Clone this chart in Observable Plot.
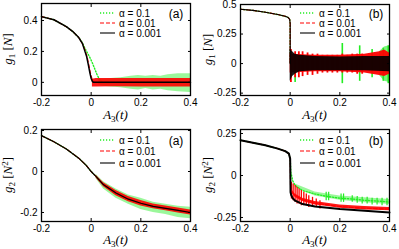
<!DOCTYPE html>
<html>
<head>
<meta charset="utf-8">
<script src="https://cdn.jsdelivr.net/npm/d3@7"></script>
<script src="https://cdn.jsdelivr.net/npm/@observablehq/plot@0.6"></script>
<style>
  html, body { margin: 0; padding: 0; background: #fff; }
  #wrap { position: relative; width: 399px; height: 249px; overflow: hidden; }
  .cell { position: absolute; }
  svg { font-family: "Liberation Sans", Arial, sans-serif; overflow: visible; }
</style>
</head>
<body>
<div id="wrap">
  <div class="cell" id="pa" style="left:0;top:0"></div>
  <div class="cell" id="pb" style="left:200px;top:0"></div>
  <div class="cell" id="pc" style="left:0;top:125px"></div>
  <div class="cell" id="pd" style="left:200px;top:125px"></div>
</div>
<script>
// ---------- shared ----------
const xTicks = [-0.2, 0, 0.2, 0.4];
const legendLabels = ["α = 0.1", "α = 0.01", "α = 0.001"];

// ---------- panel (a) top: g1 ----------
const aTicks = [0, 0.2, 0.4];
const aBlackX = [-0.2, -0.15, -0.1, -0.075, -0.05, -0.035, -0.027, -0.018, -0.011, -0.005, 0, 0.005, 0.01, 0.4];
const aBlackY = [0.425, 0.405, 0.36, 0.33, 0.29, 0.25, 0.21, 0.165, 0.11, 0.06, 0.025, 0.005, 0, 0];
const aRedX = [-0.2, -0.15, -0.1, -0.075, -0.05, -0.035, -0.025, -0.016, -0.009, -0.003, 0.003, 0.009, 0.015, 0.4];
const aRedY = [0.425, 0.405, 0.36, 0.33, 0.29, 0.25, 0.21, 0.165, 0.11, 0.06, 0.025, 0.005, 0, 0];
const aGreenX = [-0.2, -0.15, -0.1, -0.075, -0.05, -0.035, -0.025, -0.015, -0.005, 0.005, 0.015, 0.025, 0.035, 0.045];
const aGreenY = [0.425, 0.405, 0.36, 0.33, 0.29, 0.255, 0.22, 0.19, 0.16, 0.125, 0.085, 0.045, 0.015, 0];
const aGreenBandX = [0.03, 0.05, 0.08, 0.12, 0.16, 0.19, 0.22, 0.25, 0.28, 0.31, 0.35, 0.4];
const aGreenBandLo = [-0.015, -0.025, -0.03, -0.035, -0.045, -0.05, -0.04, -0.05, -0.045, -0.055, -0.06, -0.065];
const aGreenBandHi = [0.02, 0.02, 0.025, 0.03, 0.04, 0.045, 0.04, 0.045, 0.04, 0.05, 0.055, 0.055];
const aRedBandX = [0.005, 0.02, 0.1, 0.2, 0.3, 0.4];
const aRedBandLo = [-0.03, -0.03, -0.028, -0.03, -0.03, -0.03];
const aRedBandHi = [0.02, 0.025, 0.025, 0.025, 0.025, 0.025];

// ---------- panel (b) top: g1 ----------
const bTicks = [-0.25, 0, 0.25, 0.5];
const bLineX = [-0.2, -0.15, -0.1, -0.05, -0.02, -0.008, -0.002, 0, 0];
const bLineY = [0.46, 0.45, 0.435, 0.415, 0.4, 0.39, 0.375, 0.34, 0];
const bBlackBandX = [0, 0.005, 0.01, 0.02, 0.04, 0.1, 0.2, 0.3, 0.4];
const bBlackBandLo = [-0.15, -0.13, -0.11, -0.09, -0.07, -0.06, -0.06, -0.06, -0.07];
const bBlackBandHi = [0.12, 0.11, 0.1, 0.08, 0.07, 0.06, 0.055, 0.06, 0.06];
const bRedBandX = [0, 0.1, 0.2, 0.3, 0.33, 0.36, 0.38, 0.4];
const bRedBandLo = [-0.08, -0.07, -0.07, -0.08, -0.09, -0.1, -0.11, -0.09];
const bRedBandHi = [0.08, 0.07, 0.07, 0.08, 0.09, 0.1, 0.115, 0.09];
const bRedSpikeX = [0.003, 0.02, 0.035, 0.05, 0.07, 0.09, 0.11, 0.13, 0.15, 0.17, 0.19, 0.21, 0.23, 0.25, 0.27, 0.29];
const bRedSpikeHi = [0.12, 0.1, 0.1, 0.1, 0.09, 0.08, 0.08, 0.07, 0.07, 0.07, 0.07, 0.08, 0.07, 0.08, 0.08, 0.08];
const bRedSpikeLo = [-0.16, -0.12, -0.12, -0.11, -0.1, -0.1, -0.09, -0.08, -0.08, -0.08, -0.08, -0.08, -0.08, -0.08, -0.09, -0.09];
const bGreenSpikeX = [0.02, 0.21, 0.28, 0.33, 0.375, 0.395];
const bGreenSpikeHi = [0.05, 0.17, 0.15, 0.12, 0.13, 0.15];
const bGreenSpikeLo = [-0.16, -0.17, -0.15, -0.12, -0.15, -0.17];
const bGreenBandX = [0.36, 0.38, 0.4];
const bGreenBandLo = [-0.1, -0.15, -0.16];
const bGreenBandHi = [0.1, 0.14, 0.15];

// ---------- panel (a) bottom: g2 ----------
const cTicks = [-0.2, 0, 0.2];
const cLineX = [-0.2, -0.15, -0.1, -0.05, -0.02, 0, 0.02, 0.05, 0.1, 0.15, 0.2, 0.25, 0.3, 0.35, 0.4];
const cLineY = [0.175, 0.145, 0.11, 0.065, 0.03, 0, -0.025, -0.065, -0.105, -0.135, -0.155, -0.17, -0.18, -0.19, -0.2];
const cGreenBandX = [0.02, 0.05, 0.1, 0.15, 0.2, 0.25, 0.3, 0.35, 0.4];
const cGreenBandLo = [-0.035, -0.085, -0.13, -0.16, -0.185, -0.2, -0.21, -0.225, -0.23];
const cGreenBandHi = [-0.015, -0.05, -0.085, -0.115, -0.13, -0.15, -0.16, -0.17, -0.175];
const cRedBandX = [0.02, 0.05, 0.1, 0.15, 0.2, 0.25, 0.3, 0.35, 0.4];
const cRedBandLo = [-0.032, -0.075, -0.118, -0.148, -0.168, -0.182, -0.192, -0.202, -0.212];
const cRedBandHi = [-0.018, -0.055, -0.093, -0.122, -0.142, -0.158, -0.168, -0.178, -0.188];

// ---------- panel (b) bottom: g2 ----------
const dTicks = [-0.25, 0, 0.25];
const dBlackX = [-0.2, -0.15, -0.1, -0.05, -0.02, -0.005, 0, 0.0015, 0.005, 0.01, 0.02, 0.05, 0.1, 0.2, 0.3, 0.4];
const dBlackY = [0.21, 0.195, 0.18, 0.16, 0.145, 0.13, 0.1, -0.1, -0.12, -0.135, -0.15, -0.17, -0.185, -0.2, -0.21, -0.22];
const dRedX = [-0.2, -0.15, -0.1, -0.05, -0.02, -0.005, 0, 0.0015, 0.005, 0.01, 0.02, 0.05, 0.1, 0.15, 0.2, 0.3, 0.4];
const dRedY = [0.21, 0.195, 0.18, 0.16, 0.145, 0.13, 0.1, -0.07, -0.09, -0.105, -0.12, -0.145, -0.165, -0.175, -0.185, -0.195, -0.2];
const dGreenX = [-0.2, -0.15, -0.1, -0.05, -0.02, -0.005, 0, 0.003, 0.01, 0.02, 0.05, 0.1, 0.15, 0.2, 0.25, 0.3, 0.35, 0.4];
const dGreenY = [0.21, 0.195, 0.18, 0.16, 0.145, 0.13, 0.1, 0.02, -0.03, -0.06, -0.09, -0.11, -0.125, -0.135, -0.14, -0.148, -0.152, -0.158];
const dRedBandX = [0.005, 0.02, 0.05, 0.1, 0.15, 0.2, 0.3, 0.4];
const dRedBandLo = [-0.1, -0.13, -0.155, -0.175, -0.185, -0.195, -0.205, -0.21];
const dRedBandHi = [-0.08, -0.11, -0.135, -0.155, -0.165, -0.175, -0.185, -0.19];
const dRedSpikeX = [0.005, 0.012, 0.02, 0.028, 0.036, 0.045, 0.055, 0.065, 0.075, 0.09, 0.105, 0.12];
const dRedSpikeHi = [-0.04, -0.05, -0.06, -0.07, -0.08, -0.09, -0.1, -0.11, -0.12, -0.13, -0.14, -0.15];
const dRedSpikeLo = [-0.14, -0.15, -0.16, -0.17, -0.17, -0.18, -0.18, -0.18, -0.19, -0.19, -0.19, -0.2];
const dGreenBandX = [0.02, 0.1, 0.2, 0.3, 0.4];
const dGreenBandLo = [-0.07, -0.122, -0.148, -0.163, -0.173];
const dGreenBandHi = [-0.05, -0.098, -0.122, -0.133, -0.143];
const dGreenSpikeX = [0.145, 0.155, 0.205, 0.215, 0.25, 0.27, 0.29, 0.31, 0.33, 0.35, 0.37, 0.39];
const dGreenSpikeHi = [-0.1, -0.1, -0.11, -0.11, -0.12, -0.125, -0.13, -0.13, -0.135, -0.135, -0.135, -0.135];
const dGreenSpikeLo = [-0.15, -0.15, -0.16, -0.16, -0.16, -0.165, -0.17, -0.17, -0.175, -0.175, -0.18, -0.18];

// ---------- helpers ----------
const GREEN = "#22ee22", RED = "#ff0000", BLACK = "#000000";
const pts = (xs, ys) => xs.map((x, i) => ({x, y: ys[i]}));
const band = (xs, lo, hi) => xs.map((x, i) => ({x, lo: lo[i], hi: hi[i]}));

function lineMark(data, color) {
  const dash = color === GREEN ? "1.2,1.8" : color === RED ? "4,2" : null;
  return Plot.line(data, {x: "x", y: "y", stroke: color, strokeWidth: color === GREEN ? 1.4 : 1.1,
    strokeDasharray: dash, curve: "linear"});
}
function bandMark(data, color, opacity = 1) {
  return Plot.areaY(data, {x: "x", y1: "lo", y2: "hi", fill: color, fillOpacity: opacity, curve: "linear"});
}
function spikeMark(data, color, w = 1.4) {
  return Plot.ruleX(data, {x: "x", y1: "lo", y2: "hi", stroke: color, strokeWidth: w});
}

function makePanel(el, cfg) {
  const svg = Plot.plot({
    width: cfg.width, height: cfg.height,
    marginLeft: cfg.ml, marginRight: cfg.mr, marginTop: cfg.mt, marginBottom: cfg.mb,
    style: {fontFamily: "'Liberation Sans', Arial, sans-serif", fontSize: "10px", color: "#000", background: "#fff", overflow: "visible"},
    x: {domain: [-0.2, 0.4]},
    y: {domain: cfg.yDomain},
    marks: [
      ...cfg.marks,
      Plot.axisX(xTicks, {anchor: "bottom", tickSize: -3, tickPadding: 6, tickFormat: d => String(d), label: null, fontSize: 10}),
      Plot.axisX(xTicks, {anchor: "top", tickSize: -3, tickFormat: () => "", label: null}),
      Plot.axisY(cfg.yTicks, {anchor: "left", tickSize: -3, tickPadding: 7, tickFormat: d => String(d), label: null, fontSize: 10}),
      Plot.axisY(cfg.yTicks, {anchor: "right", tickSize: -3, tickFormat: () => "", label: null}),
      Plot.frame({stroke: "#000", strokeWidth: 1.3})
    ]
  });
  const s = d3.select(svg);
  const fx0 = cfg.ml, fx1 = cfg.width - cfg.mr, fy0 = cfg.mt, fy1 = cfg.height - cfg.mb;
  // x-axis title A3(t)
  const xt = s.append("text").attr("x", (fx0 + fx1) / 2).attr("y", fy1 + cfg.xto)
    .attr("text-anchor", "middle").attr("font-family", "'Liberation Serif', 'Times New Roman', serif")
    .attr("font-size", 13).attr("font-style", "italic");
  xt.append("tspan").text("A");
  xt.append("tspan").attr("font-size", 9).attr("dy", 3).attr("font-style", "normal").text("3");
  xt.append("tspan").attr("dy", -3).text("(t)");
  // y-axis title
  const yt = s.append("text").attr("transform", `translate(${cfg.ylx},${(fy0 + fy1) / 2}) rotate(-90)`)
    .attr("text-anchor", "middle").attr("font-family", "'Liberation Serif', 'Times New Roman', serif")
    .attr("font-size", 13).attr("font-style", "italic");
  yt.append("tspan").text("g");
  yt.append("tspan").attr("font-size", 9).attr("dy", 3).attr("font-style", "normal").text(cfg.ysub);
  yt.append("tspan").attr("dy", -3).attr("font-style", "normal").text(" [");
  yt.append("tspan").text("N");
  if (cfg.ysup) yt.append("tspan").attr("font-size", 9).attr("dy", -4).attr("font-style", "normal").text(cfg.ysup);
  yt.append("tspan").attr("dy", cfg.ysup ? 4 : 0).attr("font-style", "normal").text("]");
  // tag
  s.append("text").attr("x", 176).attr("y", cfg.legY[0] + 1).attr("dy", "0.35em")
    .attr("text-anchor", "middle").attr("font-size", 12).text(cfg.tag);
  // legend
  const styles = [[GREEN, "1.2,1.8", 1.4], [RED, "4,2", 1.1], [BLACK, null, 1.1]];
  legendLabels.forEach((lab, i) => {
    const y = cfg.legY[i];
    s.append("line").attr("x1", 100).attr("x2", 115).attr("y1", y).attr("y2", y)
      .attr("stroke", styles[i][0]).attr("stroke-width", styles[i][2])
      .attr("stroke-dasharray", styles[i][1]);
    s.append("text").attr("x", 119).attr("y", y).attr("dy", "0.35em").attr("text-anchor", "start")
      .attr("font-size", 10).text(lab);
  });
  el.appendChild(svg);
}

// ---------- build ----------
makePanel(document.getElementById("pa"), {
  width: 200, height: 125, ml: 41, mr: 10, mt: 3, mb: 30, yDomain: [-0.085, 0.51], yTicks: aTicks,
  ylx: 12, ysub: "1", ysup: null, tag: "(a)", legY: [13, 23, 33], xto: 24,
  marks: [
    bandMark(band(aGreenBandX, aGreenBandLo, aGreenBandHi), GREEN, 0.45),
    lineMark(pts(aGreenX, aGreenY), GREEN),
    bandMark(band(aRedBandX, aRedBandLo, aRedBandHi), RED, 0.9),
    lineMark(pts(aRedX, aRedY), RED),
    Plot.line(pts(aBlackX, aBlackY), {x: "x", y: "y", stroke: BLACK, strokeWidth: 1.5})
  ]
});

makePanel(document.getElementById("pb"), {
  width: 199, height: 125, ml: 40, mr: 10, mt: 4, mb: 30, yDomain: [-0.27, 0.5], yTicks: bTicks,
  ylx: 12, ysub: "1", ysup: null, tag: "(b)", legY: [13, 23, 33], xto: 24,
  marks: [
    bandMark(band(bGreenBandX, bGreenBandLo, bGreenBandHi), GREEN, 0.6),
    spikeMark(band(bGreenSpikeX, bGreenSpikeLo, bGreenSpikeHi), GREEN, 1.6),
    lineMark(pts(bLineX, bLineY), GREEN),
    bandMark(band(bRedBandX, bRedBandLo, bRedBandHi), RED, 0.95),
    spikeMark(band(bRedSpikeX, bRedSpikeLo, bRedSpikeHi), RED, 1.8),
    lineMark(pts(bLineX, bLineY), RED),
    bandMark(band(bBlackBandX, bBlackBandLo, bBlackBandHi), BLACK, 0.9),
    Plot.line(pts(bLineX, bLineY), {x: "x", y: "y", stroke: BLACK, strokeWidth: 1.1})
  ]
});

makePanel(document.getElementById("pc"), {
  width: 200, height: 124, ml: 41, mr: 10, mt: 4, mb: 28, yDomain: [-0.244, 0.205], yTicks: cTicks,
  ylx: 12, ysub: "2", ysup: "2", tag: "(a)", legY: [15, 26, 38], xto: 23,
  marks: [
    bandMark(band(cGreenBandX, cGreenBandLo, cGreenBandHi), GREEN, 0.45),
    lineMark(pts(cLineX, cLineY), GREEN),
    bandMark(band(cRedBandX, cRedBandLo, cRedBandHi), RED, 0.9),
    lineMark(pts(cLineX, cLineY), RED),
    Plot.line(pts(cLineX, cLineY), {x: "x", y: "y", stroke: BLACK, strokeWidth: 1.2})
  ]
});

makePanel(document.getElementById("pd"), {
  width: 199, height: 124, ml: 40, mr: 10, mt: 4, mb: 28, yDomain: [-0.274, 0.274], yTicks: dTicks,
  ylx: 12, ysub: "2", ysup: "2", tag: "(b)", legY: [15, 26, 38], xto: 23,
  marks: [
    bandMark(band(dGreenBandX, dGreenBandLo, dGreenBandHi), GREEN, 0.45),
    spikeMark(band(dGreenSpikeX, dGreenSpikeLo, dGreenSpikeHi), GREEN, 1.2),
    lineMark(pts(dGreenX, dGreenY), GREEN),
    bandMark(band(dRedBandX, dRedBandLo, dRedBandHi), RED, 0.9),
    spikeMark(band(dRedSpikeX, dRedSpikeLo, dRedSpikeHi), RED, 1.3),
    lineMark(pts(dRedX, dRedY), RED),
    Plot.line(pts(dBlackX, dBlackY), {x: "x", y: "y", stroke: BLACK, strokeWidth: 2})
  ]
});
</script>
</body>
</html>
